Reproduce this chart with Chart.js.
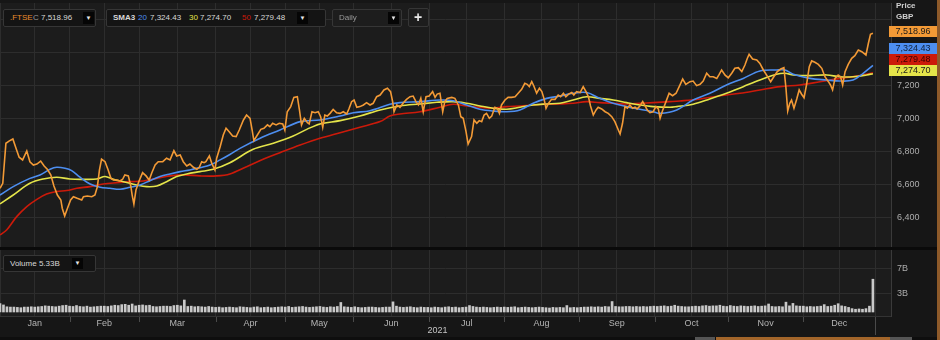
<!DOCTYPE html>
<html>
<head>
<meta charset="utf-8">
<script src="https://cdn.jsdelivr.net/npm/chart.js@4/dist/chart.umd.min.js"></script>
<style>
html,body{margin:0;padding:0;background:#171717;overflow:hidden;}
#wrap{position:relative;width:940px;height:340px;font-family:"Liberation Sans",Arial,sans-serif;}
canvas{position:absolute;left:0;top:0;}
.box{position:absolute;background:#141414;border:1px solid #363636;border-radius:2px;height:18px;box-sizing:border-box;font-size:8px;color:#d8d8d8;white-space:nowrap;}
.box span{position:absolute;top:0;line-height:16px;}
.dd{position:absolute;top:2px;width:11px;height:12px;background:#050505;color:#e8e8e8;font-size:6px;line-height:12px;text-align:center;font-style:normal;}
.badge{position:absolute;left:889px;width:48px;height:11px;font-size:9px;line-height:11px;text-align:center;color:#1a1a1a;}
.ax{position:absolute;left:896px;font-size:8px;font-weight:bold;color:#d0d0d0;}
</style>
</head>
<body>
<div id="wrap">
<canvas id="c" width="940" height="340"></canvas>

<div class="box" style="left:3px;top:9px;width:93px;">
  <span style="left:6px;color:#ec8c2c">.FTSE</span>
  <span style="left:29px;color:#9a9a9a">C</span>
  <span id="hClose" style="left:37px"></span>
  <i class="dd" style="left:79px">&#9660;</i>
</div>
<div class="box" style="left:106px;top:9px;width:220px;">
  <span style="left:6px;font-weight:bold;">SMA3</span>
  <span style="left:31px;color:#4d8ef0">20</span>
  <span id="h20" style="left:43px"></span>
  <span style="left:82px;color:#e4e44a">30</span>
  <span id="h30" style="left:93px"></span>
  <span style="left:135px;color:#cc1a0a">50</span>
  <span id="h50" style="left:147px"></span>
  <i class="dd" style="left:190px">&#9660;</i>
</div>
<div class="box" style="left:332px;top:9px;width:70px;background:#1d1d1d;">
  <span style="left:6px;color:#9a9a9a">Daily</span>
  <i class="dd" style="left:55px">&#9660;</i>
</div>
<div class="box" style="left:408px;top:8px;width:21px;height:19px;background:#1d1d1d;">
  <span style="left:5px;font-size:14px;font-weight:bold;color:#e8e8e8;line-height:16px;">+</span>
</div>
<div class="box" style="left:3px;top:255px;width:93px;height:17px;">
  <span id="hVol" style="left:6px;line-height:15px;"></span>
  <i class="dd" style="left:68px;top:2px;height:11px;line-height:11px;">&#9660;</i>
</div>

<div class="ax" style="top:1px;">Price</div>
<div class="ax" style="top:12px;">GBP</div>
<div class="badge" id="bClose" style="top:26px;background:#f39a36;"></div>
<div class="badge" id="b20" style="top:43px;background:#4d8ef0;color:#10203a;"></div>
<div class="badge" id="b50" style="top:54px;background:#cc1a0a;color:#3a0000;"></div>
<div class="badge" id="b30" style="top:65px;background:#e4e44a;"></div>
</div>

<script>
// ---- categories (session index where each month starts) ----
const months = ['Jan','Feb','Mar','Apr','May','Jun','Jul','Aug','Sep','Oct','Nov','Dec'];
const monthStart = [0,20,40,62,82,101.6,123.4,145,166.4,188.3,209.3,231,251.6];
const yearLabel = '2021';
const priceTicks = [6400,6600,6800,7000,7200,7400,7600];
const volumeTicks = [3,7];

// ---- .FTSE close (session index, value) ----
const closeIdx = [
0,0.8,1.7,2.7,3.7,4.6,5.5,6.5,7.7,8.6,
9.6,10.6,11.7,12.7,13.6,14.6,15.5,16.5,17.5,17.9,
18.6,19.4,20.3,21.1,22.2,23.5,24.0,25.1,26.4,27.3,
28.0,28.6,29.2,30.2,31.1,31.9,32.6,33.6,34.5,35.3,
35.9,36.9,37.6,38.0,38.5,39.1,39.9,41.0,42.0,42.9,
43.6,44.6,45.5,46.8,47.9,48.9,50.0,50.8,51.8,52.7,
53.7,54.6,55.6,56.6,57.3,58.0,58.7,59.2,60.2,60.9,
61.8,62.3,63.3,64.2,65.0,65.9,66.9,67.9,68.8,70.0,
70.9,71.9,72.5,73.0,74.0,75.0,75.9,76.9,77.6,78.4,
79.4,80.3,81.3,81.9,82.6,83.6,84.5,85.5,86.1,86.7,
87.5,88.4,88.9,89.7,90.6,91.5,92.2,92.8,93.4,94.1,
94.9,95.8,96.8,97.8,98.7,99.7,100.4,101.1,101.8,102.6,
103.5,104.5,105.4,106.4,107.3,108.3,109.3,110.4,111.4,112.3,
112.9,113.3,114.1,115.0,116.0,116.9,117.9,118.8,119.6,120.3,
121.0,121.7,122.5,123.4,124.4,125.1,125.7,126.5,127.3,127.9,
128.6,129.9,130.8,131.8,132.5,133.2,134.0,134.6,135.6,136.3,
137.1,137.8,138.5,139.2,139.9,140.7,141.4,142.3,143.0,143.6,
144.2,145.2,146.1,147.1,148.1,149.0,150.0,150.9,151.6,152.2,
152.9,153.5,154.3,155.1,155.8,156.4,157.0,157.7,158.6,159.6,
160.5,161.2,162.0,162.7,163.5,164.4,165.0,165.8,166.8,167.7,
168.5,169.2,169.8,170.6,171.4,172.0,173.0,174.0,174.9,175.9,
176.8,177.8,178.3,179.0,179.7,180.4,181.1,181.9,182.6,183.2,
184.0,184.8,185.5,186.1,186.9,187.8,188.6,189.3,189.8,190.5,
191.5,192.4,193.4,194.4,195.3,196.3,197.2,198.4,199.3,200.3,
201.3,202.2,203.2,204.1,205.1,206.1,206.8,207.5,208.5,209.4,
210.4,211.3,212.3,213.3,214.2,214.9,215.4,216.4,217.6,218.5,
219.5,220.4,221.6,222.5,223.5,224.5,225.4,226.0,226.5,227.1,
227.6,228.3,229.1,229.8,230.5,231.2,231.9,232.7,233.4,234.3,
235.3,236.3,237.2,238.2,238.8,239.4,240.1,241.0,241.7,242.3,
243.0,243.9,244.9,245.8,246.8,247.8,249.0,249.7,250.3,251
];
const close = [
6580,6610,6853,6867,6879,6822,6768,6752,6806,6741,
6721,6727,6745,6715,6695,6661,6594,6539,6509,6459,
6412,6459,6509,6529,6519,6509,6529,6533,6529,6539,
6590,6691,6756,6741,6691,6640,6630,6630,6624,6636,
6661,6655,6594,6539,6485,6570,6620,6675,6655,6630,
6671,6721,6741,6741,6762,6752,6808,6776,6782,6741,
6715,6727,6707,6695,6707,6741,6735,6741,6776,6731,
6691,6762,6832,6903,6944,6923,6897,6893,6933,6994,
7024,7004,6933,6869,6903,6937,6944,6964,6953,6974,
6964,6974,6970,6933,7044,7075,7131,7135,7055,6964,
7004,6978,6970,7044,7038,7044,7014,6950,7024,7018,
7034,7058,7038,7034,7044,7030,7065,7105,7115,7071,
7075,7085,7099,7085,7095,7135,7145,7176,7186,7166,
7105,7044,7085,7071,7099,7119,7135,7139,7105,7085,
7125,7044,7135,7139,7166,7131,7151,7156,7044,7105,
7125,7131,7125,7085,7014,7004,6923,6848,6893,6994,
6974,6990,6984,7024,7034,7004,7018,7071,7065,7034,
7085,7115,7131,7131,7135,7156,7180,7216,7210,7196,
7226,7200,7156,7186,7166,7125,7065,7095,7119,7119,
7145,7135,7156,7135,7151,7160,7145,7166,7160,7196,
7166,7135,7079,7024,7055,7071,7061,7044,7034,7014,
6984,6933,6909,6974,7075,7065,7085,7065,7071,7061,
7079,7105,7079,7055,7038,7044,7075,7061,7004,7050,
7105,7156,7141,7156,7196,7242,7210,7226,7230,7202,
7210,7230,7277,7256,7256,7246,7270,7297,7266,7250,
7277,7307,7311,7287,7327,7368,7392,7364,7358,7337,
7297,7267,7226,7256,7287,7303,7311,7186,7048,7095,
7115,7065,7121,7176,7150,7129,7206,7317,7352,7344,
7331,7307,7256,7226,7206,7176,7246,7266,7256,7206,
7287,7331,7368,7384,7418,7408,7388,7459,7513,7518.96
];

// ---- SMA 20 ----
const sma20Idx = [
0,3.8,8.6,11.5,14.4,16.3,18.7,20.6,23.0,25.9,
28.8,31.6,34.5,37.4,40.3,43.1,46.0,48.9,51.8,54.6,
57.5,60.4,63.3,66.1,69.0,74.8,80.5,86.3,92.0,97.8,
101.6,106.4,112.1,115.0,120.8,126.5,130.3,134.2,138.0,141.8,
145.7,149.5,153.3,157.2,161.0,164.8,168.7,172.5,176.3,180.2,
184.0,187.8,189.8,194.6,199.3,204.1,208.9,213.7,218.5,223.3,
225.7,228.1,232.9,237.7,241.5,245.3,248.2,251
];
const sma20 = [
6539,6590,6640,6661,6695,6707,6701,6687,6647,6606,
6586,6580,6574,6586,6600,6626,6651,6667,6681,6691,
6705,6721,6752,6785,6822,6883,6933,6984,6994,7018,
7038,7050,7089,7099,7105,7115,7111,7085,7059,7048,
7044,7055,7095,7125,7139,7156,7160,7125,7095,7075,
7059,7044,7034,7055,7115,7156,7206,7246,7291,7297,
7297,7271,7246,7236,7230,7236,7277,7324.43
];

// ---- SMA 30 ----
const sma30Idx = [
0,3.8,8.6,12.4,16.3,20.1,24.0,27.8,30.2,32.6,
35.5,39.3,42.2,45.1,47.9,50.8,53.7,57.5,61.3,66.1,
72.8,78.6,84.3,88.2,92.0,97.8,103.5,109.3,115.0,120.8,
125.6,130.3,134.2,138.0,141.8,145.7,149.5,153.3,157.2,161.0,
164.8,168.7,172.5,176.3,180.2,184.0,187.8,192.6,194.6,199.3,
204.1,208.9,213.7,218.5,223.3,225.7,228.1,232.9,237.7,241.5,
245.3,249.2,251
];
const sma30 = [
6485,6539,6610,6636,6647,6636,6634,6636,6651,6634,
6620,6600,6590,6594,6620,6651,6667,6681,6695,6735,
6816,6853,6897,6937,6970,6990,7018,7055,7079,7091,
7101,7105,7095,7079,7065,7059,7071,7085,7091,7095,
7115,7135,7125,7115,7099,7085,7075,7071,7075,7089,
7121,7156,7196,7236,7271,7277,7267,7263,7267,7256,
7256,7267,7274.70
];

// ---- SMA 50 ----
const sma50Idx = [
0,1.9,4.8,7.7,10.6,13.4,16.3,19.2,22.1,25.9,
29.7,33.6,37.4,41.2,45.1,48.9,52.7,57.5,62.3,66.1,
70.9,76.7,80.5,86.3,92.0,97.8,103.5,109.3,112.1,115.0,
120.8,126.5,130.3,134.2,138.0,141.8,145.7,149.5,153.3,157.2,
161.0,164.8,168.7,172.5,176.3,180.2,184.0,187.8,192.6,195.5,
201.3,207.0,212.8,218.5,224.3,230.0,235.8,241.5,247.3,251
];
const sma50 = [
6297,6327,6408,6469,6513,6545,6560,6566,6580,6590,
6606,6614,6620,6624,6640,6655,6661,6655,6655,6667,
6711,6765,6796,6842,6883,6917,6950,6984,7018,7030,
7044,7071,7089,7079,7071,7065,7075,7079,7085,7089,
7091,7095,7105,7099,7095,7091,7095,7099,7105,7109,
7121,7141,7156,7176,7196,7206,7226,7246,7263,7279.48
];

// ---- Volume (billions of shares), one bar per session, Jan..Dec ----
const volume = [
1.35,1.15,0.85,0.8,0.8,0.75,0.7,0.8,0.8,0.85,0.8,0.85,0.9,1.0,0.95,0.9,0.85,0.95,1.05,1.1,
0.95,0.9,1.05,0.9,0.85,0.95,0.8,0.85,0.9,0.95,0.95,0.9,1.0,1.1,1.05,1.2,1.25,1.1,1.3,1.0,
1.1,1.15,1.05,1.1,0.9,0.85,0.9,0.95,0.95,0.9,1.05,1.1,1.0,1.95,0.9,0.95,0.85,0.9,0.85,0.8,0.9,
0.8,0.75,0.8,0.7,0.75,0.8,0.75,0.7,0.85,0.8,0.75,0.7,0.8,0.85,0.7,0.75,0.8,0.7,0.75,0.8,
0.85,0.8,0.9,0.75,0.8,0.85,0.9,0.8,0.75,0.8,0.85,0.9,0.8,0.75,0.85,0.8,0.9,1.55,0.85,0.8,0.75,
0.85,0.75,0.7,0.75,0.8,0.8,0.75,0.7,0.75,0.8,0.8,1.65,0.95,0.8,0.75,0.8,0.85,0.75,0.7,0.8,0.75,
0.75,0.7,0.8,0.75,0.7,0.8,0.85,0.75,0.8,0.7,0.75,0.8,1.05,0.9,0.8,0.75,0.8,0.75,0.7,0.75,0.8,0.75,
0.8,0.75,0.8,0.85,0.7,0.75,0.8,0.75,0.7,0.75,0.8,0.75,0.7,0.65,0.75,0.7,0.75,0.7,1.05,0.7,0.75,
0.7,0.75,0.8,0.8,0.85,0.8,0.85,0.8,0.9,0.85,1.7,0.9,0.85,0.85,0.9,0.9,0.85,0.9,0.85,0.9,0.85,0.9,
0.95,0.9,0.95,1.0,0.9,0.95,1.1,0.95,0.9,0.85,0.85,0.9,0.95,0.9,1.0,1.05,0.95,1.0,1.0,1.1,0.95,
0.9,1.05,0.95,0.9,1.0,0.95,0.9,0.95,1.0,0.9,0.95,1.0,1.3,0.9,0.85,0.9,0.85,1.6,1.0,1.4,1.0,0.95,
0.95,0.85,0.9,0.85,0.9,0.95,1.2,0.9,0.95,1.1,1.35,1.0,0.9,0.75,0.55,0.45,0.5,0.45,0.55,0.95,5.33
];

// ---- build ----
const fmt = v => v.toLocaleString('en-US',{minimumFractionDigits:2,maximumFractionDigits:2});
const pts = (xs, ys) => xs.map((x,i)=>({x, y: ys[i]}));
const last = a => a[a.length-1];

document.getElementById('hClose').textContent = fmt(last(close));
document.getElementById('h20').textContent = fmt(last(sma20));
document.getElementById('h30').textContent = fmt(last(sma30));
document.getElementById('h50').textContent = fmt(last(sma50));
document.getElementById('hVol').textContent = 'Volume ' + last(volume).toFixed(2) + 'B';
document.getElementById('bClose').textContent = fmt(last(close));
document.getElementById('b20').textContent = fmt(last(sma20));
document.getElementById('b30').textContent = fmt(last(sma30));
document.getElementById('b50').textContent = fmt(last(sma50));

const mids = months.map((m,i)=>(monthStart[i]+monthStart[i+1])/2);
const xTickVals = [], xTickText = [];
monthStart.forEach(v=>{ xTickVals.push(v); xTickText.push(''); });
mids.forEach((v,i)=>{ xTickVals.push(v); xTickText.push(months[i]); });

const FONT = '"Liberation Sans", Arial, sans-serif';
const GRID = '#2d2d2d';

const deco = {
  id:'deco',
  beforeDraw(c){
    const {ctx, chartArea:a, width, height} = c;
    ctx.save();
    ctx.fillStyle = '#161616'; ctx.fillRect(0,0,width,height);
    ctx.fillStyle = '#1c1c1c'; ctx.fillRect(a.left, a.top, a.right-a.left, a.bottom-a.top);
    ctx.restore();
  },
  afterDraw(c){
    const {ctx, chartArea:a, width} = c;
    const xs = c.scales.x, yP = c.scales.yP;
    ctx.save();
    ctx.fillStyle = '#0a0a0a';
    ctx.fillRect(0, Math.round(yP.bottom), width, 3);
    ctx.strokeStyle = '#4a4a4a'; ctx.lineWidth = 1;
    monthStart.forEach((m,i)=>{
      if (i===0) return;
      const px = Math.round(xs.getPixelForValue(m)) + 0.5;
      ctx.beginPath(); ctx.moveTo(px, a.bottom+1);
      ctx.lineTo(px, a.bottom + (i===monthStart.length-1 ? 19 : 6)); ctx.stroke();
    });
    ctx.fillStyle = '#c4c4c4'; ctx.font = '9px ' + FONT;
    ctx.textAlign = 'center'; ctx.textBaseline = 'middle';
    ctx.fillText(yearLabel, xs.getPixelForValue((monthStart[0]+last(monthStart))/2), 331);
    // navigator strip
    ctx.fillStyle = '#0e0e0e'; ctx.fillRect(0, 337, width, 3);
    ctx.fillStyle = '#555'; ctx.fillRect(695, 337, 20, 3); ctx.fillRect(890, 337, 22, 3);
    ctx.fillStyle = '#a2652a'; ctx.fillRect(716, 337, 174, 3);
    // right border
    ctx.fillStyle = '#8e5a2a'; ctx.fillRect(937, 0, 3, 340);
    ctx.restore();
  }
};

const zeroPad = s => { s.paddingTop = 0; s.paddingBottom = 0; s.paddingLeft = 0; s.paddingRight = 0; };

new Chart(document.getElementById('c'), {
  data: {
    datasets: [
      {type:'line', label:'.FTSE', data: pts(closeIdx, close), yAxisID:'yP', borderColor:'#f39a36', borderWidth:1.6, pointRadius:0, tension:0, order:0},
      {type:'line', label:'SMA 20', data: pts(sma20Idx, sma20), yAxisID:'yP', borderColor:'#4d8ef0', borderWidth:1.6, pointRadius:0, tension:0.35, order:1},
      {type:'line', label:'SMA 30', data: pts(sma30Idx, sma30), yAxisID:'yP', borderColor:'#e4e44a', borderWidth:1.6, pointRadius:0, tension:0.35, order:2},
      {type:'line', label:'SMA 50', data: pts(sma50Idx, sma50), yAxisID:'yP', borderColor:'#cc1a0a', borderWidth:1.6, pointRadius:0, tension:0.35, order:3},
      {type:'bar', label:'Volume', data: volume.map((v,i)=>({x:i, y:v})), yAxisID:'yV', backgroundColor:'#c9c9c9', barThickness:2, order:4}
    ]
  },
  options: {
    responsive:false, animation:false, maintainAspectRatio:false,
    layout:{padding:{top:3,left:0,right:0,bottom:0}},
    plugins:{legend:{display:false}, tooltip:{enabled:false}},
    scales:{
      x:{
        type:'linear', min:0, max:256.2, position:'bottom', offset:false,
        afterBuildTicks(s){ s.ticks = xTickVals.map(v=>({value:v})); },
        afterFit(s){ s.height = 24; zeroPad(s); },
        ticks:{autoSkip:false, maxRotation:0, padding:2, color:'#b4b4b4', font:{size:9, family:FONT},
          callback(v){ const k = xTickVals.indexOf(v); return k>=0 ? xTickText[k] : ''; }},
        grid:{color:GRID, drawTicks:false, offset:false},
        border:{display:true, color:'#333'}
      },
      yP:{
        type:'linear', position:'right', stack:'panes', stackWeight:244, min:6224, max:7703,
        afterBuildTicks(s){ s.ticks = priceTicks.map(v=>({value:v})); },
        afterFit(s){ s.width = 49; zeroPad(s); },
        ticks:{padding:6, color:'#acacac', font:{size:9, family:FONT},
          callback(v){ return v < 7300 ? v.toLocaleString('en-US') : ''; }},
        grid:{color:GRID, drawTicks:false},
        border:{display:true, color:'#3a3a3a'}
      },
      yV:{
        type:'linear', position:'right', stack:'panes', stackWeight:69, min:-0.65, max:10.57,
        afterBuildTicks(s){ s.ticks = volumeTicks.map(v=>({value:v})); },
        afterFit(s){ s.width = 49; zeroPad(s); },
        ticks:{padding:6, color:'#acacac', font:{size:9, family:FONT}, callback(v){ return v + 'B'; }},
        grid:{color:GRID, drawTicks:false},
        border:{display:true, color:'#3a3a3a'}
      }
    }
  },
  plugins:[deco]
});
</script>
</body>
</html>
